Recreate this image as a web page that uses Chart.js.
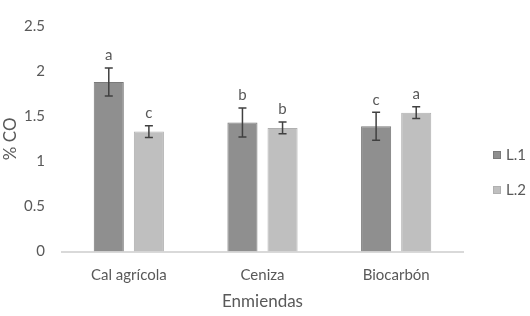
<!DOCTYPE html>
<html lang="es">
<head>
<meta charset="UTF-8">
<title>% CO por enmienda</title>
<script src="https://cdn.jsdelivr.net/npm/chart.js"></script>
<style>
  html, body { margin: 0; padding: 0; background: #fff; }
  #wrap { width: 530px; height: 316px; }
</style>
</head>
<body>
<div id="wrap"><canvas id="chart" width="530" height="316"></canvas></div>
<script>
// datos
const categorias = ['Cal agrícola', 'Ceniza', 'Biocarbón'];
const l1 = [1.88, 1.43, 1.39];
const l2 = [1.33, 1.37, 1.54];
const errL1 = [0.155, 0.16, 0.155];
const errL2 = [0.065, 0.065, 0.065];
const letrasL1 = ['a', 'b', 'c'];
const letrasL2 = ['c', 'b', 'a'];
const yTicks = [0, 0.5, 1, 1.5, 2, 2.5];

const texto = '#595959';
const fuente = 'Lato, "Open Sans", sans-serif';

// barras de error + letras
const errorBars = {
  id: 'errorBars',
  afterDatasetsDraw(chart) {
    const ctx = chart.ctx;
    const y = chart.scales.y;
    chart.data.datasets.forEach((ds, di) => {
      const meta = chart.getDatasetMeta(di);
      meta.data.forEach((bar, i) => {
        const v = ds.data[i], e = ds.err[i];
        const yt = y.getPixelForValue(v + e);
        const yb = y.getPixelForValue(v - e);
        ctx.save();
        ctx.strokeStyle = '#404040';
        ctx.lineWidth = 1.5;
        ctx.beginPath();
        ctx.moveTo(bar.x, yt); ctx.lineTo(bar.x, yb);
        ctx.moveTo(bar.x - 4, yt); ctx.lineTo(bar.x + 4, yt);
        ctx.moveTo(bar.x - 4, yb); ctx.lineTo(bar.x + 4, yb);
        ctx.stroke();
        ctx.fillStyle = texto;
        ctx.font = '15px ' + fuente;
        ctx.textAlign = 'center';
        ctx.textBaseline = 'bottom';
        ctx.fillText(ds.letras[i], bar.x, yt - 5);
        ctx.restore();
      });
    });
  }
};

// leyenda a la derecha
const leyenda = {
  id: 'leyenda',
  afterDraw(chart) {
    const ctx = chart.ctx;
    chart.data.datasets.forEach((ds, i) => {
      const yc = 155 + i * 35;
      ctx.save();
      ctx.fillStyle = ds.backgroundColor;
      ctx.strokeStyle = ds.borderColor;
      ctx.fillRect(493, yc - 4, 8, 8);
      ctx.strokeRect(493.5, yc - 3.5, 7, 7);
      ctx.fillStyle = texto;
      ctx.font = '15px ' + fuente;
      ctx.textAlign = 'left';
      ctx.textBaseline = 'middle';
      ctx.fillText(ds.label, 506, yc);
      ctx.restore();
    });
  }
};

new Chart(document.getElementById('chart'), {
  type: 'bar',
  data: {
    labels: categorias,
    datasets: [
      { label: 'L.1', data: l1, err: errL1, letras: letrasL1,
        backgroundColor: '#8f8f8f', borderColor: '#7a7a7a', borderWidth: 1 },
      { label: 'L.2', data: l2, err: errL2, letras: letrasL2,
        backgroundColor: '#bfbfbf', borderColor: '#b0b0b0', borderWidth: 1 }
    ]
  },
  options: {
    responsive: false,
    animation: false,
    layout: { padding: { top: 17, right: 67, bottom: 4, left: 0 } },
    datasets: { bar: { categoryPercentage: 0.6, barPercentage: 0.75 } },
    plugins: { legend: { display: false }, tooltip: { enabled: false } },
    scales: {
      x: {
        grid: { display: false, drawTicks: false },
        border: { color: '#d9d9d9', width: 2 },
        ticks: { color: texto, font: { family: fuente, size: 15 }, padding: 15 },
        title: { display: true, text: 'Enmiendas', color: texto,
                 font: { family: fuente, size: 17 }, padding: { top: -8, bottom: 0 } }
      },
      y: {
        min: 0, max: 2.5,
        afterBuildTicks(s) { s.ticks = yTicks.map(v => ({ value: v })); },
        afterFit(s) { s.width = 62; },
        grid: { display: false, drawTicks: false },
        border: { display: false },
        ticks: { color: texto, font: { family: fuente, size: 15 }, padding: 17,
                 callback: v => String(v) },
        title: { display: true, text: '% CO', color: texto,
                 font: { family: fuente, size: 17 }, padding: { top: 0, bottom: 0 } }
      }
    }
  },
  plugins: [errorBars, leyenda]
});
</script>
</body>
</html>
